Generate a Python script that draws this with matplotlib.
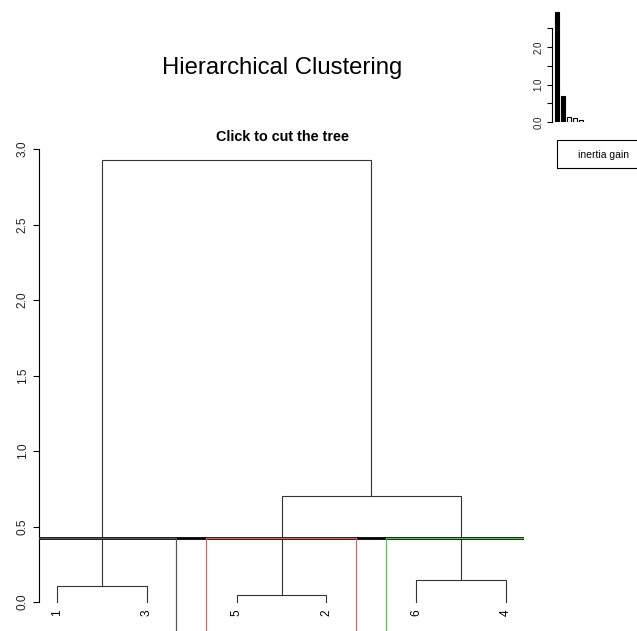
import matplotlib
matplotlib.use("Agg")
import matplotlib.pyplot as plt
from matplotlib.patches import Rectangle

plt.rcParams['font.family'] = ['Liberation Sans', 'DejaVu Sans']

# Data
#++++++++++++++++++++++++++++++++++++++++++++++++++++++++++++++++++++++++++++++#
leaf_labels = ["1", "3", "5", "2", "6", "4"]
# merges: negative = leaf position (1-based), positive = earlier merge (1-based)
merge_left = [-1, -3, -5, 2, 1]
merge_right = [-2, -4, -6, 3, 4]
merge_height = [0.106, 0.046, 0.146, 0.70, 2.93]

cluster_sizes = [2, 2, 2]
cluster_colors = ['#555555', '#d66a6a', '#5cbf5c']

gain_values = [2.93, 0.70, 0.146, 0.106, 0.046]
gain_filled = [True, True, False, False, False]

main_title = "Hierarchical Clustering"
sub_title = "Click to cut the tree"
#++++++++++++++++++++++++++++++++++++++++++++++++++++++++++++++++++++++++++++++#

W, H = 637, 631
fig = plt.figure(figsize=(W / 100, H / 100), dpi=100)

def fig_box(x0, x1, ytop, ybot):
    return [x0 / W, 1 - ybot / H, (x1 - x0) / W, (ybot - ytop) / H]

# Main dendrogram axes (bottom goes past the picture, like the cropped R device)
px_left, px_right, px_top, px_bot = 39, 524, 141, 645
y0_px, px_per_unit = 602, 151.0
ax = fig.add_axes(fig_box(px_left, px_right, px_top, px_bot))
ax.set_xlim(0.8, 6.2)
ax.set_ylim(-(px_bot - y0_px) / px_per_unit, (y0_px - px_top) / px_per_unit)

# compute node coordinates
node_x, node_y = [], []
def child_xy(c):
    if c < 0:
        return -c, 0.0
    return node_x[c - 1], node_y[c - 1]

tree_col = '#333333'
for l, r, h in zip(merge_left, merge_right, merge_height):
    lx, ly = child_xy(l)
    rx, ry = child_xy(r)
    ax.plot([lx, lx, rx, rx], [ly, h, h, ry], color=tree_col, lw=0.8,
            solid_joinstyle='miter')
    node_x.append((lx + rx) / 2)
    node_y.append(h)

# leaf labels
for i, lab in enumerate(leaf_labels):
    ax.text(i + 1, -0.05, lab, rotation=90, ha='center', va='top', fontsize=8.6)

# cut line and cluster rectangles
heights_sorted = sorted(merge_height)
k = len(cluster_sizes)
cut = (heights_sorted[-k] + heights_sorted[-k + 1]) / 2
ax.axhline(cut, color='black', lw=2.0, zorder=3)

m = [0]
for s in cluster_sizes:
    m.append(m[-1] + s)
ybot = ax.get_ylim()[0] - 0.5
for i, col in enumerate(cluster_colors):
    x0 = m[i] + 0.66
    x1 = m[i + 1] + 0.33
    ax.add_patch(Rectangle((x0, ybot), x1 - x0, cut - ybot, fill=False,
                           edgecolor=col, lw=0.9, zorder=4))

for sp in ['top', 'right', 'bottom']:
    ax.spines[sp].set_visible(False)
ax.spines['left'].set_bounds(0, 3)
ax.spines['left'].set_linewidth(0.8)
ax.set_xticks([])
ax.set_yticks([0, 0.5, 1.0, 1.5, 2.0, 2.5, 3.0])
ax.set_yticklabels(['0.0', '0.5', '1.0', '1.5', '2.0', '2.5', '3.0'],
                   rotation=90, va='center', fontsize=8.6, color='#222222')
ax.tick_params(axis='y', length=4.3, width=0.8, pad=3)

# titles
fig.text(282 / W, 1 - 68 / H, main_title, ha='center', va='center', fontsize=17.2)
fig.text(282 / W, 1 - 137 / H, sub_title, ha='center', va='center',
         fontsize=10.4, fontweight='bold')

# Inset: inertia gain bar plot
ins_left, ins_right, ins_top, ins_bot = 552, 600, 10, 122
ins_px_unit = 37.5
iax = fig.add_axes(fig_box(ins_left, ins_right, ins_top, ins_bot))
iax.set_ylim(0, (ins_bot - ins_top) / ins_px_unit)
step = 6.0
iax.set_xlim(-5 / step, -5 / step + (ins_right - ins_left) / step)
for i, (v, f) in enumerate(zip(gain_values, gain_filled)):
    iax.bar(i, v, width=0.7, color='black' if f else 'white',
            edgecolor='black', lw=0.8)
for sp in ['top', 'right', 'bottom']:
    iax.spines[sp].set_visible(False)
iax.patch.set_alpha(0)
iax.spines['left'].set_bounds(0, 2.5)
iax.spines['left'].set_linewidth(0.8)
iax.set_xticks([])
iax.set_yticks([0, 0.5, 1.0, 1.5, 2.0, 2.5])
iax.set_yticklabels(['0.0', '', '1.0', '', '2.0', ''], rotation=90,
                    va='center', fontsize=7, color='#222222')
iax.tick_params(axis='y', length=3.6, width=0.8, pad=2.5)

# legend box
fig.patches.append(Rectangle((557 / W, 1 - 168 / H), 90 / W, 28 / H, fill=False,
                             edgecolor='black', lw=0.8, transform=fig.transFigure,
                             figure=fig))
fig.text(603 / W, 1 - 155 / H, "inertia gain", ha='center', va='center', fontsize=7.5)

fig.savefig("out.png", dpi=100)
